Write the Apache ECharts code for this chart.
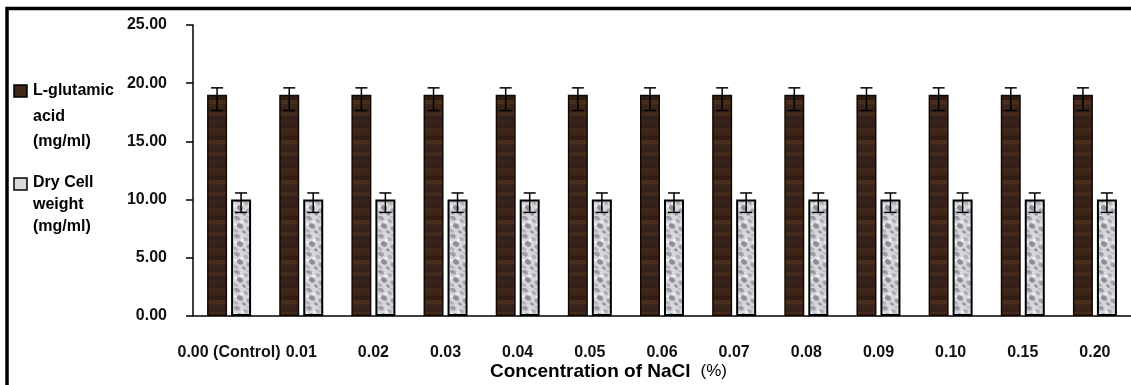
<!DOCTYPE html>
<html>
<head>
<meta charset="utf-8">
<script src="https://cdn.jsdelivr.net/npm/echarts@6/dist/echarts.min.js"></script>
<style>
html,body{margin:0;padding:0;background:#fff;}
#chart{width:1131px;height:385px;}
</style>
</head>
<body>
<div id="chart"></div>
<script>
// ---- data ----
const categories = ['0.00 (Control)','0.01','0.02','0.03','0.04','0.05','0.06','0.07','0.08','0.09','0.10','0.15','0.20'];
const seriesNames = ['L-glutamic\nacid\n(mg/ml)', 'Dry Cell\nweight\n(mg/ml)'];
const glutamic = [19.0,19.0,19.0,19.0,19.0,19.0,19.0,19.0,19.0,19.0,19.0,19.0,19.0];
const glutamicErrPlus = [0.6,0.6,0.6,0.6,0.6,0.6,0.6,0.6,0.6,0.6,0.6,0.6,0.6];
const glutamicErrMinus = [1.35,1.35,1.35,1.35,1.35,1.35,1.35,1.35,1.35,1.35,1.35,1.35,1.35];
const dryCell = [10.0,10.0,10.0,10.0,10.0,10.0,10.0,10.0,10.0,10.0,10.0,10.0,10.0];
const dryCellErrPlus = [0.57,0.57,0.57,0.57,0.57,0.57,0.57,0.57,0.57,0.57,0.57,0.57,0.57];
const dryCellErrMinus = [1.1,1.1,1.1,1.1,1.1,1.1,1.1,1.1,1.1,1.1,1.1,1.1,1.1];
const yTicks = [0, 5, 10, 15, 20, 25];

// ---- textures ----
function brownPattern(){
  const c = document.createElement('canvas'); c.width = 8; c.height = 40;
  const g = c.getContext('2d');
  const rows = ['#3a2318','#34201a','#412819','#3a2417','#311d14','#4a2e1d','#3b2418','#36211a','#432a1b','#33201a'];
  for (let i = 0; i < 40; i += 4){ g.fillStyle = rows[(i/4)%rows.length]; g.fillRect(0,i,8,4); }
  // darker side shading
  g.fillStyle = 'rgba(0,0,0,0.0)';
  return c;
}
function grayPattern(){
  const c = document.createElement('canvas'); c.width = 18; c.height = 18;
  const g = c.getContext('2d');
  g.fillStyle = '#d4d6da'; g.fillRect(0,0,18,18);
  const blobs = [[3,2,2.2,'#9a9da3'],[12,5,1.8,'#aeb1b5'],[6,10,2.4,'#8c8f95'],[15,13,2,'#a0a3a8'],[2,15,1.6,'#b2b4b8'],[10,16,1.4,'#979a9f'],[14,1,1.2,'#b8babd'],[8,6,1.1,'#f2f2f2'],[1,8,1.3,'#eeeeee'],[16,9,1.2,'#ececec']];
  blobs.forEach(b => { g.fillStyle = b[3]; g.beginPath(); g.ellipse(b[0], b[1], b[2]+0.8, b[2], 0.6, 0, Math.PI*2); g.fill(); });
  return c;
}

const chart = echarts.init(document.getElementById('chart'));
const font = '"Liberation Sans", Arial, sans-serif';
const BAR_W = 20, HALF_OFF = 12;

function errSeries(values, plus, minus, offset){
  return {
    type: 'custom',
    z: 10,
    silent: true,
    data: values.map((v, i) => [i, v - minus[i], v + plus[i]]),
    renderItem: function(params, api){
      const i = api.value(0);
      const lo = api.coord([i, api.value(1)]);
      const hi = api.coord([i, api.value(2)]);
      const x = lo[0] + offset;
      const cw = 6;
      const st = { stroke: '#000', lineWidth: 1.5 };
      return { type: 'group', children: [
        { type: 'line', shape: { x1: x, y1: lo[1], x2: x, y2: hi[1] }, style: st },
        { type: 'line', shape: { x1: x - cw, y1: hi[1], x2: x + cw, y2: hi[1] }, style: st },
        { type: 'line', shape: { x1: x - cw, y1: lo[1], x2: x + cw, y2: lo[1] }, style: st }
      ]};
    }
  };
}

const option = {
  backgroundColor: '#fff',
  animation: false,
  grid: { left: 193, top: 25, width: 939, height: 291, containLabel: false },
  xAxis: {
    type: 'category',
    data: categories,
    axisLine: { lineStyle: { color: '#000', width: 1.5 } },
    axisTick: { show: false },
    axisLabel: { interval: 0, margin: 29, color: '#111', fontFamily: font, fontWeight: 'bold', fontSize: 16 },
    splitLine: { show: false }
  },
  yAxis: {
    type: 'value',
    min: yTicks[0], max: yTicks[yTicks.length-1], interval: 5,
    axisLine: { show: true, lineStyle: { color: '#000', width: 1.5 } },
    axisTick: { show: true, length: 7, lineStyle: { color: '#000', width: 1.5 } },
    axisLabel: { margin: 26, color: '#111', fontFamily: font, fontWeight: 'bold', fontSize: 16, formatter: v => v.toFixed(2) },
    splitLine: { show: false }
  },
  title: {
    text: '{a|Concentration of NaCl}  {b|(%)}',
    left: 485, top: 357,
    textStyle: { rich: {
      a: { fontFamily: font, fontWeight: 'bold', fontSize: 19, color: '#000' },
      b: { fontFamily: font, fontWeight: 'normal', fontSize: 17, color: '#000' }
    } }
  },
  series: [
    { name: seriesNames[0], type: 'bar', data: glutamic, barWidth: BAR_W, barGap: '20%',
      itemStyle: { color: { image: brownPattern(), repeat: 'repeat' }, borderColor: '#120904', borderWidth: 1.5 } },
    { name: seriesNames[1], type: 'bar', data: dryCell, barWidth: BAR_W, barGap: '20%',
      itemStyle: { color: { image: grayPattern(), repeat: 'repeat' }, borderColor: '#000', borderWidth: 2 } },
    errSeries(glutamic, glutamicErrPlus, glutamicErrMinus, -HALF_OFF),
    errSeries(dryCell, dryCellErrPlus, dryCellErrMinus, HALF_OFF)
  ],
  graphic: [
    { type: 'polyline', shape: { points: [[7,385],[7,8.5],[1131,8.5]] }, style: { stroke: '#000', lineWidth: 3.5, fill: null } },
    { type: 'rect', shape: { x: 14, y: 85, width: 13, height: 12 }, style: { fill: '#3e2618', stroke: '#000', lineWidth: 1.5 } },
    { type: 'text', x: 33, y: 78, style: { text: seriesNames[0], font: 'bold 16px ' + font, fill: '#000', lineHeight: 25.5 } },
    { type: 'rect', shape: { x: 14, y: 178, width: 13, height: 12 }, style: { fill: '#d8d9dc', stroke: '#000', lineWidth: 1.5 } },
    { type: 'text', x: 33, y: 172, style: { text: seriesNames[1], font: 'bold 16px ' + font, fill: '#000', lineHeight: 22 } }
  ]
};
chart.setOption(option);
</script>
</body>
</html>
